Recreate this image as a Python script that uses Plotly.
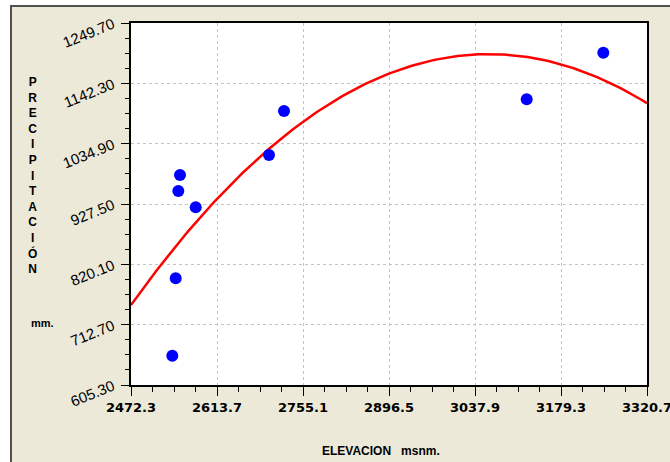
import numpy as np
import plotly.graph_objects as go

# ---- data ----
elevacion = [2540.2, 2545.8, 2550.1, 2552.9, 2578.7, 2699.2, 2723.9, 3122.9, 3248.9]
precipitacion = [657.5, 795.2, 950.7, 979.1, 921.6, 1014.7, 1093.1, 1113.9, 1196.9]
x_ticks = [2472.3, 2613.7, 2755.1, 2896.5, 3037.9, 3179.3, 3320.7]
y_ticks = [605.30, 712.70, 820.10, 927.50, 1034.90, 1142.30, 1249.70]

# quadratic trend fitted to the points
coef = np.polyfit(elevacion, precipitacion, 2)
xs = np.linspace(x_ticks[0], x_ticks[-1], 200)
ys = np.polyval(coef, xs)

W, H = 670, 462
L, R, T, B = 131, 23, 23, 77
pw, ph = W - L - R, H - T - B
def xp(px):
    return (px - L) / pw
def yp(py):
    return (H - B - py) / ph

BEIGE = "#ECE9D8"

fig = go.Figure()
fig.add_trace(go.Scatter(x=xs, y=ys, mode="lines",
                         line=dict(color="#FF0000", width=2.5),
                         hoverinfo="skip", showlegend=False))
fig.add_trace(go.Scatter(x=elevacion, y=precipitacion, mode="markers",
                         marker=dict(color="#0000FF", size=12, line=dict(width=0)),
                         showlegend=False))

axis_common = dict(showline=True, linecolor="black", linewidth=2, mirror=True,
                   ticks="outside", tickcolor="black", tickwidth=1,
                   showgrid=True, gridcolor="#C4C4C4", gridwidth=1, griddash="3px,3px",
                   zeroline=False, ticklabeloverflow="allow", automargin=False)

fig.update_xaxes(range=[x_ticks[0], x_ticks[-1]], tickmode="array", tickvals=x_ticks,
                 ticktext=[f"{v:.1f}" for v in x_ticks], ticklen=9,
                 tickfont=dict(family="DejaVu Sans", size=13, color="black", weight="bold"),
                 minor=dict(tick0=x_ticks[0], dtick=(x_ticks[1] - x_ticks[0]) / 4,
                            ticklen=5, tickcolor="black", ticks="outside", showgrid=False),
                 **axis_common)
fig.update_yaxes(range=[y_ticks[0], y_ticks[-1]], tickmode="array", tickvals=y_ticks,
                 ticktext=[f"{v:.2f}" for v in y_ticks], ticklen=8, tickangle=-22,
                 tickfont=dict(family="Liberation Sans", size=15, color="black"),
                 ticklabelstandoff=5,
                 minor=dict(tick0=y_ticks[0], dtick=(y_ticks[1] - y_ticks[0]) / 4,
                            ticklen=4, tickcolor="black", ticks="outside", showgrid=False),
                 **axis_common)

shapes = [
    dict(type="rect", xref="paper", yref="paper", x0=xp(-5), x1=xp(10.5), y0=yp(470), y1=yp(-5),
         fillcolor="white", line=dict(width=0), layer="below"),
    dict(type="rect", xref="paper", yref="paper", x0=xp(-5), x1=xp(675), y0=yp(5.5), y1=yp(-5),
         fillcolor="white", line=dict(width=0), layer="below"),
    dict(type="path", xref="paper", yref="paper",
         path=f"M {xp(11)} {yp(470)} L {xp(11)} {yp(6)} L {xp(675)} {yp(6)}",
         line=dict(color="#505050", width=2), layer="below"),
]

ylab = "<br>".join(list("PRECIPITACIÓN"))
annotations = [
    dict(text=ylab, xref="paper", yref="paper", x=xp(32), y=yp(175), showarrow=False,
         xanchor="center", yanchor="middle",
         font=dict(family="Liberation Sans", size=12, color="black", weight="bold")),
    dict(text="mm.", xref="paper", yref="paper", x=xp(42), y=yp(323), showarrow=False,
         xanchor="center", yanchor="middle",
         font=dict(family="Liberation Sans", size=11, color="black", weight="bold")),
    dict(text="ELEVACION\u00a0\u00a0\u00a0msnm.", xref="paper", yref="paper", x=xp(381), y=yp(451),
         showarrow=False, xanchor="center", yanchor="middle",
         font=dict(family="Liberation Sans", size=12, color="black", weight="bold")),
]

fig.update_layout(width=W, height=H, margin=dict(l=L, r=R, t=T, b=B, autoexpand=False),
                  paper_bgcolor=BEIGE, plot_bgcolor="white",
                  shapes=shapes, annotations=annotations, showlegend=False)

fig.write_html("out.html")
